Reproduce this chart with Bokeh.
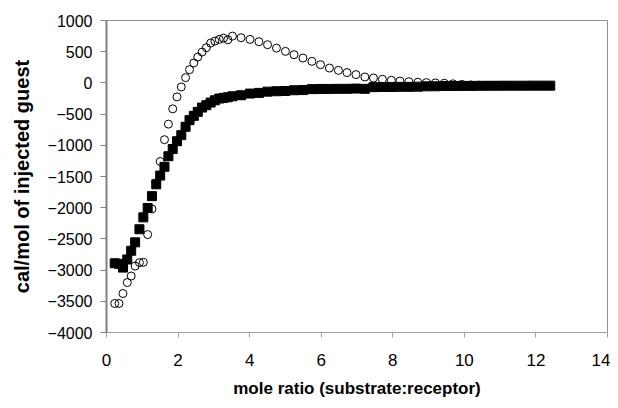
from bokeh.plotting import figure
from bokeh.models import Range1d, FixedTicker
from bokeh.embed import file_html
from bokeh.resources import INLINE

# mole ratio (substrate:receptor)
mole_ratio = [0.23, 0.35, 0.46, 0.58, 0.69, 0.80, 0.92, 1.03, 1.15, 1.27,
              1.39, 1.50, 1.62, 1.73, 1.85, 1.97, 2.09, 2.21, 2.32, 2.44,
              2.55, 2.67, 2.79, 2.91, 3.03, 3.15, 3.27, 3.39, 3.52,
              3.76, 4.01, 4.26, 4.50, 4.75, 5.00, 5.24, 5.49, 5.74, 5.98,
              6.23, 6.48, 6.72, 6.97, 7.22, 7.46, 7.71, 7.96, 8.20, 8.45,
              8.70, 8.94, 9.19, 9.44, 9.68, 9.93, 10.18, 10.42, 10.67, 10.92,
              11.16, 11.41, 11.66, 11.90, 12.15, 12.40]

# filled squares (cal/mol of injected guest)
heat_squares = [-2890, -2900, -2960, -2830, -2690, -2555, -2345, -2155, -2005, -1815,
                -1625, -1485, -1345, -1175, -1060, -935, -837, -703, -597, -528,
                -464, -395, -357, -315, -278, -251, -240, -230, -214,
                -198, -171, -160, -140, -134, -130, -118, -115, -100, -97,
                -97, -95, -95, -91, -95, -68, -65, -65, -63, -63,
                -60, -55, -54, -50, -50, -48, -48, -47, -46, -46,
                -45, -45, -45, -44, -44, -44]

# open circles (cal/mol of injected guest)
heat_circles = [-3535, -3535, -3375, -3200, -3095, -2935, -2880, -2875, -2430, -2020,
                -1600, -1260, -910, -661, -416, -224, -65, 84, 212, 319,
                414, 494, 564, 638, 670, 697, 718, 691, 750,
                724, 697, 660, 612, 558, 505, 452, 398, 345, 292,
                238, 201, 165, 133, 95, 79, 58, 42, 30, 20,
                10, 5, 0, -5, -15, -25, -32, -36, -40, -42,
                -43, -44, -44, -44, -44, -44]

x_ticks = [0, 2, 4, 6, 8, 10, 12, 14]
y_ticks = [-4000, -3500, -3000, -2500, -2000, -1500, -1000, -500, 0, 500, 1000]

p = figure(width=610, height=400, output_backend="svg", toolbar_location=None,
           x_range=Range1d(0, 14), y_range=Range1d(-4000, 1000),
           min_border_left=106, min_border_right=3, min_border_top=20,
           min_border_bottom=67)

p.grid.visible = False
p.background_fill_color = "white"
p.border_fill_color = "white"
p.outline_line_color = "#909090"
p.outline_line_width = 1

p.xaxis.ticker = FixedTicker(ticks=x_ticks)
p.yaxis.ticker = FixedTicker(ticks=y_ticks)
p.xaxis.minor_tick_line_color = None
p.yaxis.minor_tick_line_color = None

for ax in (p.xaxis, p.yaxis):
    ax.major_tick_in = 0
    ax.major_label_text_font = "Liberation Sans"
    ax.major_label_text_color = "black"
    ax.axis_label_text_font = "Liberation Sans"
    ax.axis_label_text_font_style = "bold"
    ax.axis_label_text_color = "black"

p.xaxis.major_tick_out = 5
p.yaxis.major_tick_out = 6
p.xaxis.axis_line_color = "#a0a0a0"
p.xaxis.major_tick_line_color = "#a0a0a0"
p.yaxis.axis_line_color = "#808080"
p.yaxis.axis_line_width = 2
p.yaxis.major_tick_line_color = "#808080"

p.xaxis.major_label_text_font_size = "17px"
p.yaxis.major_label_text_font_size = "16px"
p.xaxis.major_label_standoff = 16
p.yaxis.major_label_standoff = 8

p.xaxis.axis_label = "mole ratio (substrate:receptor)"
p.yaxis.axis_label = "cal/mol of injected guest"
p.xaxis.axis_label_text_font_size = "17px"
p.yaxis.axis_label_text_font_size = "20px"
p.xaxis.axis_label_standoff = 10
p.yaxis.axis_label_standoff = 12

p.scatter(mole_ratio, heat_circles, marker="circle", size=8,
          line_color="black", line_width=1, fill_alpha=0)
p.scatter(mole_ratio, heat_squares, marker="square", size=9,
          color="black")

open("out.html", "w").write(file_html(p, INLINE))
